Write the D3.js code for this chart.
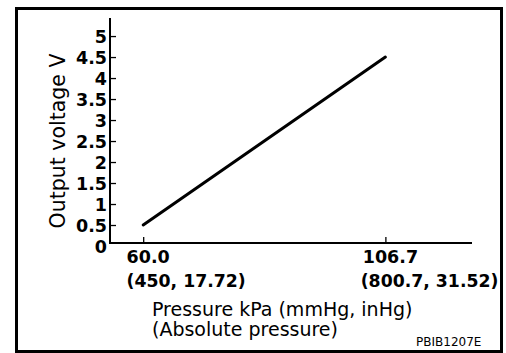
<!DOCTYPE html>
<html>
<head>
<meta charset="utf-8">
<script src="https://cdn.jsdelivr.net/npm/d3@7"></script>
<style>
  body { margin: 0; background: #fff; }
  svg { display: block; }
</style>
</head>
<body>
<svg id="chart"></svg>
<script>
// sensor characteristic: pressure (kPa) vs output voltage
const pressureKpa = [60.0, 106.7];
const outputVoltage = [0.5, 4.5];
const xTickLabels = ["60.0", "106.7"];
const xTickSubLabels = ["(450, 17.72)", "(800.7, 31.52)"];
const yTickValues = [0, 0.5, 1, 1.5, 2, 2.5, 3, 3.5, 4, 4.5, 5];
const xDomain = [53.6, 123.4];
const yDomain = [0, 5.43];

const width = 506;
const height = 353;
const plot = { left: 110, right: 472, top: 18, bottom: 246 };

const svg = d3.select("#chart").attr("width", width).attr("height", height);

// outer frame
svg
  .append("rect")
  .attr("x", 16.5)
  .attr("y", 8.5)
  .attr("width", 485)
  .attr("height", 343)
  .attr("fill", "none")
  .attr("stroke", "#000")
  .attr("stroke-width", 3);

const xScale = d3.scaleLinear().domain(xDomain).range([plot.left, plot.right]);
const yScale = d3.scaleLinear().domain(yDomain).range([plot.bottom, plot.top]);
const axisY = yScale(0) - 3;

// axis lines
svg
  .append("line")
  .attr("x1", plot.left)
  .attr("x2", plot.left)
  .attr("y1", plot.top)
  .attr("y2", axisY + 1)
  .attr("stroke", "#000")
  .attr("stroke-width", 2);

svg
  .append("line")
  .attr("x1", plot.left - 1)
  .attr("x2", plot.right)
  .attr("y1", axisY)
  .attr("y2", axisY)
  .attr("stroke", "#000")
  .attr("stroke-width", 2);

// y ticks + labels
const yAxis = d3
  .axisLeft(yScale)
  .tickValues(yTickValues)
  .tickSize(-6)
  .tickPadding(3)
  .tickFormat(d => d);

const yG = svg
  .append("g")
  .attr("transform", `translate(${plot.left},0)`)
  .call(yAxis);
yG.select(".domain").remove();
yG.selectAll(".tick line").attr("stroke", "#000").attr("stroke-width", 1.3);
yG.selectAll(".tick").filter(d => d === 0).select("line").remove();
yG
  .selectAll(".tick text")
  .attr("x", -3)
  .attr("dy", "0.36em")
  .attr("fill", "#000")
  .style("font-family", "DejaVu Sans")
  .style("font-weight", "bold")
  .style("font-size", "17.5px");

// x ticks
const xAxis = d3
  .axisBottom(xScale)
  .tickValues(pressureKpa)
  .tickSize(-6)
  .tickFormat("");

const xG = svg
  .append("g")
  .attr("transform", `translate(0,${axisY})`)
  .call(xAxis);
xG.select(".domain").remove();
xG.selectAll(".tick line").attr("stroke", "#000").attr("stroke-width", 1.3);

// x tick labels, two lines each
pressureKpa.forEach((p, i) => {
  const top = svg
    .append("text")
    .attr("x", xScale(p) + 5)
    .attr("y", 263)
    .attr("text-anchor", "middle")
    .style("font-family", "DejaVu Sans")
    .style("font-weight", "bold")
    .style("font-size", "17.5px")
    .text(xTickLabels[i]);
  const bb = top.node().getBBox();
  svg
    .append("text")
    .attr("x", bb.x + (i === 0 ? 0 : -2))
    .attr("y", 287)
    .style("font-family", "DejaVu Sans")
    .style("font-weight", "bold")
    .style("font-size", "17.3px")
    .text(xTickSubLabels[i]);
});

// data line
const lineData = pressureKpa.map((p, i) => ({ p, v: outputVoltage[i] }));
svg
  .append("path")
  .datum(lineData)
  .attr(
    "d",
    d3
      .line()
      .x(d => xScale(d.p))
      .y(d => yScale(d.v))
  )
  .attr("fill", "none")
  .attr("stroke", "#000")
  .attr("stroke-width", 3)
  .attr("stroke-linecap", "round");

// axis titles
svg
  .append("text")
  .attr("text-anchor", "middle")
  .attr("transform", `translate(64.5, 141) rotate(-90)`)
  .style("font-family", "DejaVu Sans")
  .style("font-size", "20.5px")
  .text("Output voltage V");

svg
  .append("text")
  .attr("x", 152)
  .attr("y", 316)
  .style("font-family", "DejaVu Sans")
  .style("font-size", "19px")
  .text("Pressure kPa (mmHg, inHg)");

svg
  .append("text")
  .attr("x", 152)
  .attr("y", 336)
  .style("font-family", "DejaVu Sans")
  .style("font-size", "19px")
  .text("(Absolute pressure)");

svg
  .append("text")
  .attr("x", 416)
  .attr("y", 346)
  .style("font-family", "DejaVu Sans")
  .style("font-size", "12px")
  .text("PBIB1207E");
</script>
</body>
</html>
